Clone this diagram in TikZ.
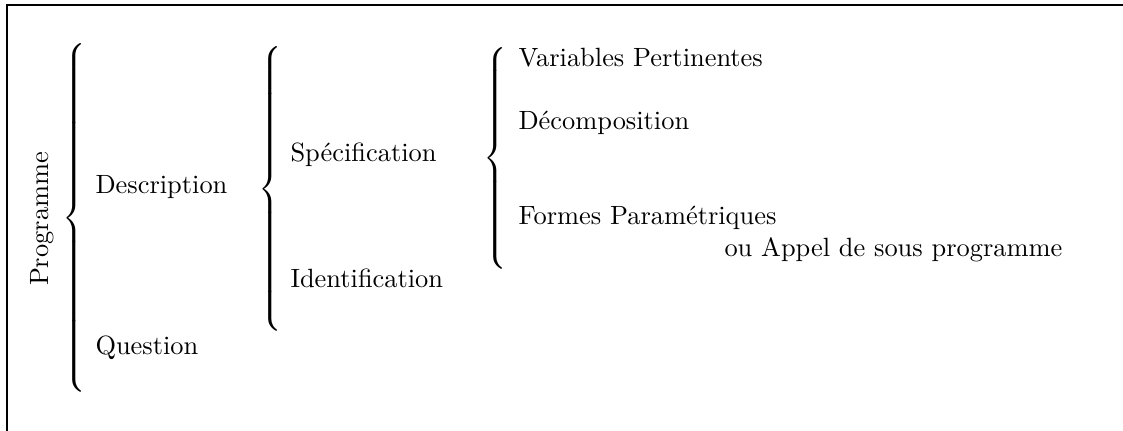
\documentclass[tikz,border=0pt]{standalone}
\usepackage{tikz}
\delimiterfactor=1000
\delimitershortfall=0pt
\nulldelimiterspace=0pt

\begin{document}
\begin{tikzpicture}[x=0.3788pt,y=0.3788pt,yscale=-1,xscale=1]
    \useasboundingbox (0,0) rectangle (1123,431);

    %Straight Lines [frame]
    \draw [line width=0.8pt] (7,431) -- (7,5) -- (1123,5) ;

    %Shape: Braces
    \node (brProg) at (62,218) [anchor=west][inner sep=0pt] {$\left\{\vcenter{\hrule height 130pt width 0pt}\right.$};
    \node (brDesc) at (258,189) [anchor=west][inner sep=0pt] {$\left\{\vcenter{\hrule height 103pt width 0pt}\right.$};
    \node (brSpec) at (483,158) [anchor=west][inner sep=0pt] {$\left\{\vcenter{\hrule height 79pt width 0pt}\right.$};

    % Text Node
    \node (prog) at (48,219) [anchor=base][inner sep=0pt][rotate=90] {Programme};
    % Text Node
    \node (desc) at (95,194) [anchor=base west][inner sep=0pt] {Description};
    % Text Node
    \node (quest) at (95,355) [anchor=base west][inner sep=0pt] {Question};
    % Text Node
    \node (spec) at (290,162) [anchor=base west][inner sep=0pt] {Sp\'ecification};
    % Text Node
    \node (ident) at (290,288) [anchor=base west][inner sep=0pt] {Identification};
    % Text Node
    \node (var) at (518,67) [anchor=base west][inner sep=0pt] {Variables Pertinentes};
    % Text Node
    \node (decomp) at (518,130) [anchor=base west][inner sep=0pt] {D\'ecomposition};
    % Text Node
    \node (formes) at (518,225) [anchor=base west][inner sep=0pt] {Formes Param\'etriques};
    % Text Node
    \node (appel) at (724,257) [anchor=base west][inner sep=0pt] {ou Appel de sous programme};

\end{tikzpicture}
\end{document}
